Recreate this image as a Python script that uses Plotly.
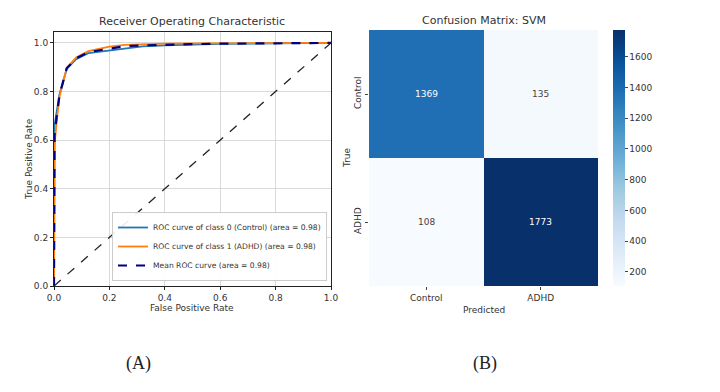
import plotly.graph_objects as go

# ROC data
fpr_0 = [0, 0.002, 0.01, 0.02, 0.046, 0.08, 0.124, 0.2, 0.256, 0.32, 0.4, 0.5, 0.6, 0.8, 1.0]
tpr_0 = [0, 0.66, 0.72, 0.79, 0.893, 0.933, 0.958, 0.968, 0.978, 0.986, 0.99, 0.993, 0.996, 0.998, 1.0]
fpr_1 = [0, 0.002, 0.01, 0.02, 0.046, 0.08, 0.124, 0.2, 0.256, 0.32, 0.4, 0.5, 0.6, 0.8, 1.0]
tpr_1 = [0, 0.58, 0.68, 0.78, 0.897, 0.94, 0.966, 0.985, 0.992, 0.995, 0.997, 0.998, 0.999, 1.0, 1.0]
fpr_mean = [0, 0.002, 0.01, 0.02, 0.046, 0.08, 0.124, 0.2, 0.256, 0.32, 0.4, 0.5, 0.6, 0.8, 1.0]
tpr_mean = [0, 0.62, 0.70, 0.786, 0.896, 0.937, 0.962, 0.978, 0.987, 0.99, 0.993, 0.995, 0.997, 0.999, 1.0]
chance = [0, 1]

roc_names = ["ROC curve of class 0 (Control) (area = 0.98)",
             "ROC curve of class 1 (ADHD) (area = 0.98)",
             "Mean ROC curve (area = 0.98)"]

# confusion matrix
classes = ["Control", "ADHD"]
cm = [[1369, 135],
      [108, 1773]]
cbar_ticks = [200, 400, 600, 800, 1000, 1200, 1400, 1600]

W, H = 720, 392
OFF = 8  # page body margin shifts the figure by 8px

def fx(a):
    return (a - OFF) / W

def fy(b):
    return 1 - (b - OFF) / H

txt = "#333333"
font = dict(family="DejaVu Sans", size=9, color=txt)

fig = go.Figure()
fig.add_trace(go.Scatter(x=fpr_0, y=tpr_0, mode="lines", name=roc_names[0],
                         line=dict(color="#1f77b4", width=1.8), xaxis="x", yaxis="y"))
fig.add_trace(go.Scatter(x=fpr_1, y=tpr_1, mode="lines", name=roc_names[1],
                         line=dict(color="#ff7f0e", width=1.8), xaxis="x", yaxis="y"))
fig.add_trace(go.Scatter(x=fpr_mean, y=tpr_mean, mode="lines", name=roc_names[2],
                         line=dict(color="navy", width=2.2, dash="dash"), xaxis="x", yaxis="y"))
fig.add_trace(go.Scatter(x=chance, y=chance, mode="lines", showlegend=False,
                         line=dict(color="#222222", width=1.3, dash="dash"), xaxis="x", yaxis="y"))

fig.add_trace(go.Heatmap(z=cm, x=classes, y=classes, colorscale="Blues", showscale=True,
                         xaxis="x2", yaxis="y2", xgap=0, ygap=0, hoverinfo="z",
                         colorbar=dict(x=fx(613), xanchor="left", thickness=12,
                                       len=256 / H, y=fy(286), yanchor="bottom",
                                       outlinewidth=0, tickvals=cbar_ticks, ticks="outside",
                                       ticklen=3, tickfont=font, xpad=0, ypad=0)))

zmax = max(max(r) for r in cm)
for i, row in enumerate(cm):
    for j, v in enumerate(row):
        fig.add_annotation(x=classes[j], y=classes[i], xref="x2", yref="y2", text=str(v),
                           showarrow=False,
                           font=dict(family="DejaVu Sans", size=9,
                                     color="white" if v > zmax / 2 else "#444444"))

axis_common = dict(showline=True, linecolor="#222222", linewidth=1, mirror=True,
                   ticks="outside", ticklen=3, tickcolor="#222222", tickfont=font,
                   gridcolor="#d9d9d9", zeroline=False, automargin=False)

fig.update_layout(
    width=W, height=H, margin=dict(l=0, r=0, t=0, b=0, autoexpand=False),
    paper_bgcolor="white", plot_bgcolor="white",
    xaxis=dict(domain=[fx(54), fx(331)], range=[0, 1], tickvals=[0, 0.2, 0.4, 0.6, 0.8, 1.0],
               tickformat=".1f", anchor="y", **axis_common),
    yaxis=dict(domain=[fy(286), fy(32)], range=[0, 1.045], tickvals=[0, 0.2, 0.4, 0.6, 0.8, 1.0],
               tickformat=".1f", anchor="x", **axis_common),
    xaxis2=dict(domain=[fx(369), fx(598)], anchor="y2", showgrid=False, zeroline=False,
                ticks="outside", ticklen=3, tickfont=font, automargin=False),
    yaxis2=dict(domain=[fy(286), fy(30)], anchor="x2", autorange="reversed", showgrid=False,
                zeroline=False, ticks="outside", ticklen=3, tickangle=-90, tickfont=font,
                automargin=False),
    legend=dict(x=fx(327), y=fy(281), xanchor="right", yanchor="bottom",
                bgcolor="rgba(255,255,255,0.9)", bordercolor="#cccccc", borderwidth=1,
                font=dict(family="DejaVu Sans", size=7.6, color=txt), tracegroupgap=0,
                itemwidth=30),
)

def label(text, x, y, size=9, angle=0, family="DejaVu Sans", color=txt):
    fig.add_annotation(text=text, x=fx(x), y=fy(y), xref="paper", yref="paper",
                       xanchor="center", yanchor="middle", showarrow=False, textangle=angle,
                       font=dict(family=family, size=size, color=color))

label("Receiver Operating Characteristic", 192, 21, size=11)
label("False Positive Rate", 192, 308)
label("True Positive Rate", 29, 159, angle=-90)
label("Confusion Matrix: SVM", 484, 20, size=11)
label("Predicted", 484, 310)
label("True", 347, 158, angle=-90)
label("(A)", 138, 363, size=18, family="Liberation Serif", color="#222222")
label("(B)", 485, 363, size=18, family="Liberation Serif", color="#222222")

fig.write_html("out.html")
